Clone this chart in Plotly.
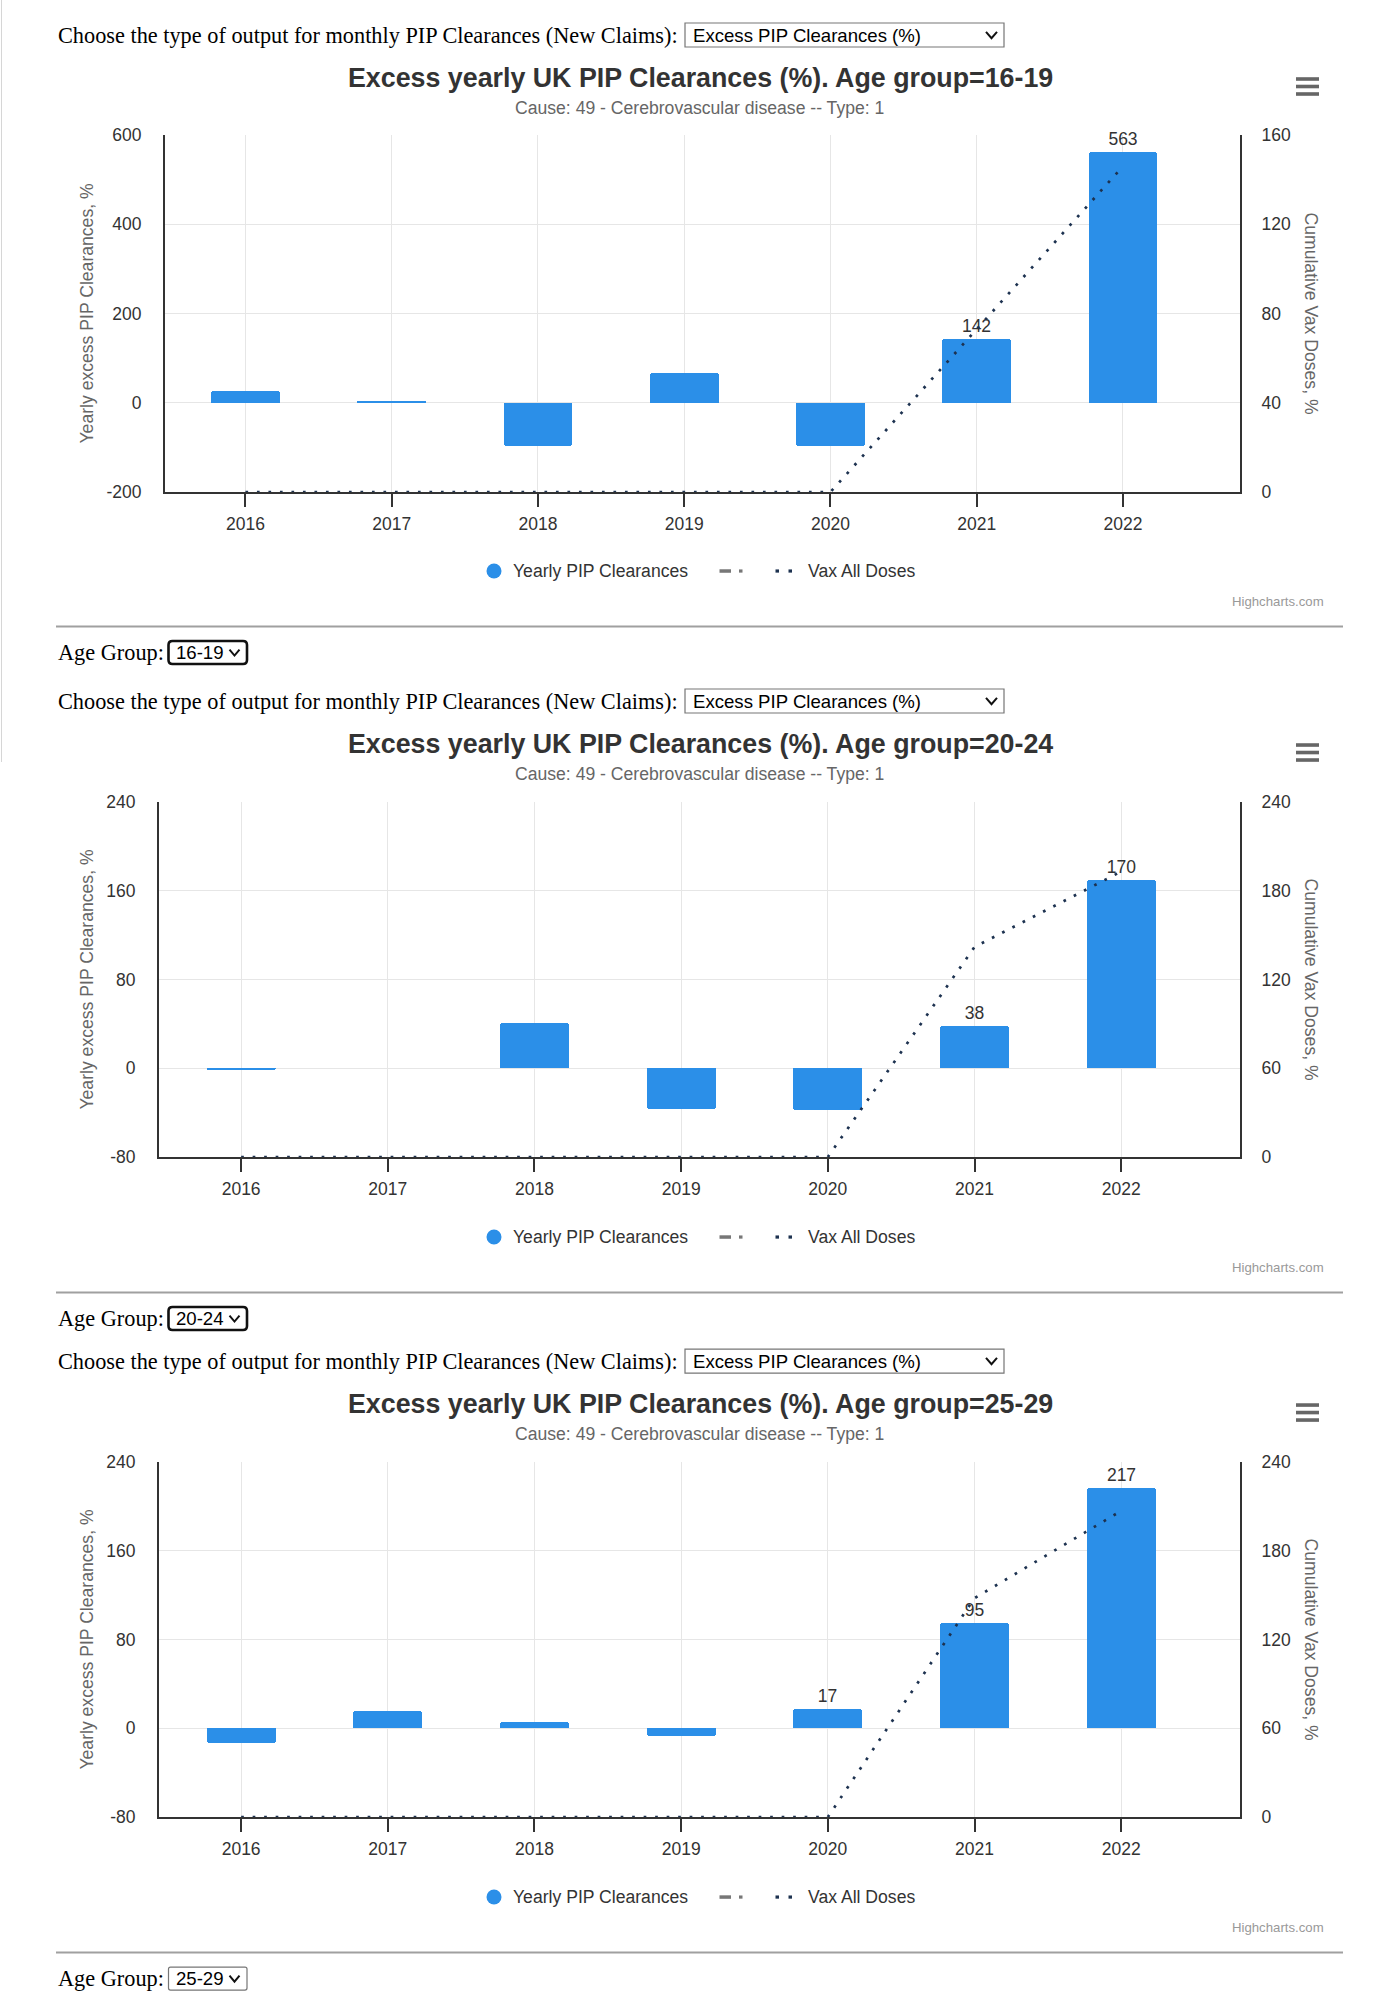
import plotly.graph_objects as go

W, H = 1390, 2007

# ---------------- data ----------------
years = [2016, 2017, 2018, 2019, 2020, 2021, 2022]
year_labels = ["2016", "2017", "2018", "2019", "2020", "2021", "2022"]
age_groups = ["16-19", "20-24", "25-29"]

excess_16_19 = [26, 3, -96, 66, -96, 142, 563]
excess_20_24 = [-2, 0, 41, -37, -38, 38, 170]
excess_25_29 = [-13, 16, 6, -7, 17, 95, 217]

vax_16_19 = [0, 0, 0, 0, 0, 73, 146]
vax_20_24 = [0, 0, 0, 0, 0, 142, 193]
vax_25_29 = [0, 0, 0, 0, 0, 148, 207]

left_ticks_16_19 = [-200, 0, 200, 400, 600]
right_ticks_16_19 = [0, 40, 80, 120, 160]
left_ticks_20_24 = [-80, 0, 80, 160, 240]
right_ticks_20_24 = [0, 60, 120, 180, 240]
left_ticks_25_29 = [-80, 0, 80, 160, 240]
right_ticks_25_29 = [0, 60, 120, 180, 240]

excess_series = [excess_16_19, excess_20_24, excess_25_29]
vax_series = [vax_16_19, vax_20_24, vax_25_29]
left_ticks = [left_ticks_16_19, left_ticks_20_24, left_ticks_25_29]
right_ticks = [right_ticks_16_19, right_ticks_20_24, right_ticks_25_29]

title_fmt = "Excess yearly UK PIP Clearances (%). Age group={}"
subtitle = "Cause: 49 - Cerebrovascular disease -- Type: 1"
choose_text = "Choose the type of output for monthly PIP Clearances (New Claims):"
select_text = "Excess PIP Clearances (%)"
left_title = "Yearly excess PIP Clearances, %"
right_title = "Cumulative Vax Doses, %"
bar_name = "Yearly PIP Clearances"
line_name = "Vax All Doses"

# ---------------- styles / geometry ----------------
SANS = "Liberation Sans, Arial, sans-serif"
SERIF = "Liberation Serif, Times New Roman, serif"
BLUE = "#2b8fe8"
NAVY = "#1d3250"
GRID = "#e6e6e6"
AXIS = "#333333"

offsets = [0, 666, 1326]
plot_top = [135, 802, 1462]
plot_bot = [492, 1157, 1817]
plot_left = [165, 159, 159]
plot_right = 1240
x_range = [[2015.45, 2022.80], [2015.44, 2022.81], [2015.44, 2022.81]]

# vertical placement correction measured from the rendered page
Y_OFF, Y_SCALE = 10.0, 0.99


def px(x):
    return x / W


def py(y):
    return 1 - ((y - Y_OFF) / Y_SCALE) / H


annotations = []
shapes = []


def ann(text, x, y, size, color, family=SANS, xanchor="left", yanchor="middle", angle=0):
    annotations.append(dict(text=text, x=px(x), y=py(y), xref="paper", yref="paper",
                            showarrow=False, xanchor=xanchor, yanchor=yanchor,
                            textangle=angle, font=dict(size=size, color=color, family=family)))


def line(x0, y0, x1, y1, color, width):
    shapes.append(dict(type="line", xref="paper", yref="paper", x0=px(x0), y0=py(y0),
                       x1=px(x1), y1=py(y1), line=dict(color=color, width=width)))


def rect(x0, y0, x1, y1, fill, lcolor=None, lwidth=0):
    shapes.append(dict(type="rect", xref="paper", yref="paper", x0=px(x0), y0=py(y0),
                       x1=px(x1), y1=py(y1), fillcolor=fill,
                       line=dict(color=lcolor or fill, width=lwidth)))


def rrect(x0, y0, x1, y1, r, lcolor, lwidth):
    p = (f"M {px(x0 + r)},{py(y0)} L {px(x1 - r)},{py(y0)} Q {px(x1)},{py(y0)} {px(x1)},{py(y0 + r)} "
         f"L {px(x1)},{py(y1 - r)} Q {px(x1)},{py(y1)} {px(x1 - r)},{py(y1)} "
         f"L {px(x0 + r)},{py(y1)} Q {px(x0)},{py(y1)} {px(x0)},{py(y1 - r)} "
         f"L {px(x0)},{py(y0 + r)} Q {px(x0)},{py(y0)} {px(x0 + r)},{py(y0)} Z")
    shapes.append(dict(type="path", xref="paper", yref="paper", path=p, fillcolor="white",
                       line=dict(color=lcolor, width=lwidth)))


def chevron(xc, yc, w=5.5, h=3.2):
    p = f"M {px(xc - w)},{py(yc - h)} L {px(xc)},{py(yc + h)} L {px(xc + w)},{py(yc - h)}"
    shapes.append(dict(type="path", xref="paper", yref="paper", path=p,
                       line=dict(color="#111111", width=2)))


# faint page edge on the left
line(1.5, 0, 1.5, 762, "#d6d6d6", 1)

fig = go.Figure()
layout_axes = {}

for i in range(3):
    o = offsets[i]
    n = i + 1
    xname = "x" if n == 1 else f"x{n}"
    yl = "y" if n == 1 else f"y{2 * n - 1}"
    yr = f"y{2 * n}"
    xa_key = "xaxis" if n == 1 else f"xaxis{n}"
    yl_key = "yaxis" if n == 1 else f"yaxis{2 * n - 1}"
    yr_key = f"yaxis{2 * n}"

    vals = excess_series[i]
    labels = [str(round(v)) if (yr_ >= 2020 and v > 0) else "" for yr_, v in zip(years, vals)]

    fig.add_trace(go.Bar(x=years, y=vals, width=0.47, name=bar_name,
                         marker=dict(color=BLUE, line=dict(width=0), cornerradius=3),
                         text=labels, textposition="outside", constraintext="none",
                         textfont=dict(size=17.5, color="#333333", family=SANS),
                         cliponaxis=False, showlegend=False, xaxis=xname, yaxis=yl,
                         hoverinfo="skip"))
    fig.add_trace(go.Scatter(x=years, y=vax_series[i], mode="lines", name=line_name,
                             line=dict(color=NAVY, width=2.7, dash="2.7px,8.8px"),
                             cliponaxis=False, showlegend=False, xaxis=xname, yaxis=yr,
                             hoverinfo="skip"))

    dom_x = [px(plot_left[i]), px(plot_right)]
    dom_y = [py(plot_bot[i]), py(plot_top[i])]
    lt, rt = left_ticks[i], right_ticks[i]

    layout_axes[xa_key] = dict(domain=dom_x, range=x_range[i], anchor=yl,
                               tickmode="array", tickvals=years, ticktext=year_labels,
                               ticks="outside", ticklen=13, tickwidth=1.5, tickcolor=AXIS,
                               showgrid=True, gridcolor=GRID, gridwidth=1.2,
                               showline=True, linecolor=AXIS, linewidth=2, zeroline=False,
                               ticklabelstandoff=2,
                               tickfont=dict(size=17.5, color=AXIS, family=SANS))
    layout_axes[yl_key] = dict(domain=dom_y, range=[lt[0], lt[-1]], anchor=xname,
                               tickmode="array", tickvals=lt, ticktext=[str(t) for t in lt],
                               ticks="", showgrid=True, gridcolor=GRID, gridwidth=1.2,
                               showline=True, linecolor=AXIS, linewidth=2, zeroline=False,
                               ticklabelstandoff=18,
                               tickfont=dict(size=17.5, color=AXIS, family=SANS))
    layout_axes[yr_key] = dict(range=[rt[0], rt[-1]], anchor=xname, overlaying=yl, side="right",
                               tickmode="array", tickvals=rt, ticktext=[str(t) for t in rt],
                               ticks="", showgrid=False,
                               showline=True, linecolor=AXIS, linewidth=2, zeroline=False,
                               ticklabelstandoff=16,
                               tickfont=dict(size=17.5, color=AXIS, family=SANS))

    # header controls
    ann(choose_text, 56, 35 + o, 22.3, "#000000", SERIF)
    rect(685, 23 + o, 1004, 47 + o, "white", "#767676", 1.2)
    ann(select_text, 691, 35 + o, 18.6, "#000000", SANS)
    chevron(991.5, 35 + o)

    # titles
    ann("<b>" + title_fmt.format(age_groups[i]) + "</b>", 700, 78 + o, 26.8, "#333333", SANS, "center")
    ann(subtitle, 699, 108 + o, 17.6, "#666666", SANS, "center")

    # hamburger menu
    for dy in (-7.5, 0, 7.5):
        line(1296, 86.5 + o + dy, 1319, 86.5 + o + dy, "#666666", 3.6)

    # axis titles
    cy = (plot_top[i] + plot_bot[i]) / 2
    ann(left_title, 87, cy, 17.6, "#666666", SANS, "center", "middle", -90)
    ann(right_title, 1311, cy, 17.6, "#666666", SANS, "center", "middle", 90)

    # legend
    ly = 571 + o
    shapes.append(dict(type="circle", xref="paper", yref="paper", x0=px(486.5), x1=px(501.5),
                       y0=py(ly + 7.5), y1=py(ly - 7.5), fillcolor=BLUE, line=dict(width=0)))
    ann(bar_name, 511, ly, 17.6, "#333333", SANS)
    line(719.5, ly, 731, ly, "#777777", 3.5)
    rect(739, ly - 1.6, 742.5, ly + 1.6, "#777777")
    rect(775.5, ly - 1.6, 779, ly + 1.6, NAVY)
    rect(788.5, ly - 1.6, 792, ly + 1.6, NAVY)
    ann(line_name, 806, ly, 17.6, "#333333", SANS)

    # credits
    ann("Highcharts.com", 1326, 601 + o, 13.2, "#999999", SANS, "right")

    # separator and age-group selector
    line(56, 626.5 + o, 1343, 626.5 + o, "#a0a0a0", 2)
    ann("Age Group:", 56, 652 + o, 22.3, "#000000", SERIF)
    if i < 2:
        rrect(168.5, 641 + o, 247, 664 + o, 4, "#111111", 2.6)
    else:
        rrect(168.5, 641 + o, 247, 664 + o, 2, "#767676", 1.2)
    ann(age_groups[i], 174, 652.5 + o, 18.6, "#000000", SANS)
    chevron(234.5, 652.5 + o, 5, 3)

fig.update_layout(
    width=W, height=H, autosize=False,
    margin=dict(l=0, r=0, t=0, b=0, pad=0),
    paper_bgcolor="white", plot_bgcolor="white",
    showlegend=False, bargap=0,
    font=dict(family=SANS, color=AXIS),
    annotations=annotations, shapes=shapes,
    **layout_axes,
)

fig.write_html("out.html", config={"displayModeBar": False},
               post_script="document.body.style.margin='0px';")
